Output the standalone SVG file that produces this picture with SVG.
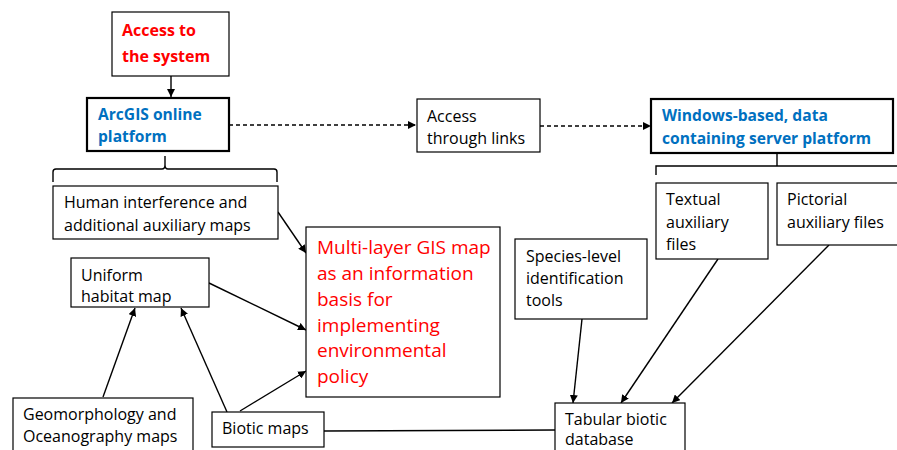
<svg xmlns="http://www.w3.org/2000/svg" width="897" height="450" viewBox="0 0 897 450">
<defs>
<marker id="ah" markerWidth="8" markerHeight="8" refX="8" refY="4" orient="auto" markerUnits="userSpaceOnUse"><path d="M0,0 L8,4 L0,8 Z" fill="#000"/></marker>
<style>
.box{fill:#fff;stroke:#000;stroke-width:1.2}
.tbox{fill:#fff;stroke:#000;stroke-width:2.2}
.t{font-family:"Open Sans","Liberation Sans",sans-serif;font-size:16px;fill:#000}
.red{font-family:"Open Sans","Liberation Sans",sans-serif;font-size:16px;font-weight:bold;fill:#ff0000}
.blue{font-family:"Open Sans","Liberation Sans",sans-serif;font-size:15.6px;font-weight:bold;fill:#0070c0}
.big{font-family:"Open Sans","Liberation Sans",sans-serif;font-size:19px;fill:#ff0000}
.ln{stroke:#000;stroke-width:1.4;fill:none}
.arr{stroke:#000;stroke-width:1.4;fill:none;marker-end:url(#ah)}
.dash{stroke:#000;stroke-width:1.4;fill:none;stroke-dasharray:4 3;marker-end:url(#ah)}
</style>
</defs>
<g id="connectors">
<line class="arr" x1="171" y1="76" x2="171" y2="97"/>
<line class="dash" x1="229" y1="125" x2="416" y2="125"/>
<line class="dash" x1="540" y1="126" x2="651" y2="126"/>
<path class="ln" d="M53,182 L53,172 Q53,169 56,169 L162,169 Q165,169 165,165 L165,156 M165,165 Q165,169 168,169 L274,169 Q277,169 277,172 L277,182"/>
<path class="ln" d="M777,153 L777,166 M656,175 L656,166 L897,166"/>
<line class="arr" x1="278" y1="212" x2="306" y2="253"/>
<line class="arr" x1="209" y1="283" x2="306" y2="330"/>
<line class="arr" x1="240" y1="411" x2="306" y2="371"/>
<line class="arr" x1="227" y1="412" x2="181" y2="308"/>
<line class="arr" x1="103" y1="397" x2="135" y2="308"/>
<line class="ln" x1="324" y1="431" x2="555" y2="430"/>
<line class="arr" x1="582" y1="319" x2="573" y2="403"/>
<line class="arr" x1="718" y1="259" x2="621" y2="403"/>
<line class="arr" x1="829" y1="245" x2="672" y2="403"/>
</g>
<g id="access-system">
<rect class="box" x="112" y="12" width="117" height="64"/>
<text class="red" x="122" y="36">Access to</text>
<text class="red" x="122" y="62">the system</text>
</g>
<g id="arcgis">
<rect class="tbox" x="87" y="98" width="142" height="53"/>
<text class="blue" x="98" y="120">ArcGIS online</text>
<text class="blue" x="98" y="142">platform</text>
</g>
<g id="access-links">
<rect class="box" x="417" y="99" width="123" height="53"/>
<text class="t" x="427" y="122">Access</text>
<text class="t" x="427" y="144">through links</text>
</g>
<g id="windows">
<rect class="tbox" x="651" y="99" width="242" height="54"/>
<text class="blue" x="662" y="121">Windows-based, data</text>
<text class="blue" x="662" y="144">containing server platform</text>
</g>
<g id="human">
<rect class="box" x="53" y="186" width="225" height="53"/>
<text class="t" x="64" y="208">Human interference and</text>
<text class="t" x="64" y="231">additional auxiliary maps</text>
</g>
<g id="textual">
<rect class="box" x="656" y="183" width="112" height="76"/>
<text class="t" x="666" y="205">Textual</text>
<text class="t" x="666" y="228">auxiliary</text>
<text class="t" x="666" y="250">files</text>
</g>
<g id="pictorial">
<rect class="box" x="777" y="183" width="125" height="62"/>
<text class="t" x="787" y="205">Pictorial</text>
<text class="t" x="787" y="228">auxiliary files</text>
</g>
<g id="multilayer">
<rect class="box" x="306" y="227" width="194" height="170"/>
<text class="big" x="317" y="254">Multi-layer GIS map</text>
<text class="big" x="317" y="280">as an information</text>
<text class="big" x="317" y="306">basis for</text>
<text class="big" x="317" y="332">implementing</text>
<text class="big" x="317" y="357">environmental</text>
<text class="big" x="317" y="383">policy</text>
</g>
<g id="species">
<rect class="box" x="515" y="239" width="132" height="80"/>
<text class="t" x="526" y="262">Species-level</text>
<text class="t" x="526" y="284">identification</text>
<text class="t" x="526" y="306">tools</text>
</g>
<g id="uniform">
<rect class="box" x="71" y="258" width="138" height="49"/>
<text class="t" x="81" y="281">Uniform</text>
<text class="t" x="81" y="302">habitat map</text>
</g>
<g id="geomorph">
<rect class="box" x="13" y="398" width="180" height="60"/>
<text class="t" x="23" y="420">Geomorphology and</text>
<text class="t" x="23" y="442">Oceanography maps</text>
</g>
<g id="biotic">
<rect class="box" x="212" y="412" width="112" height="35"/>
<text class="t" x="222" y="434">Biotic maps</text>
</g>
<g id="tabular">
<rect class="box" x="555" y="403" width="130" height="60"/>
<text class="t" x="565" y="425">Tabular biotic</text>
<text class="t" x="565" y="445">database</text>
</g>
</svg>
